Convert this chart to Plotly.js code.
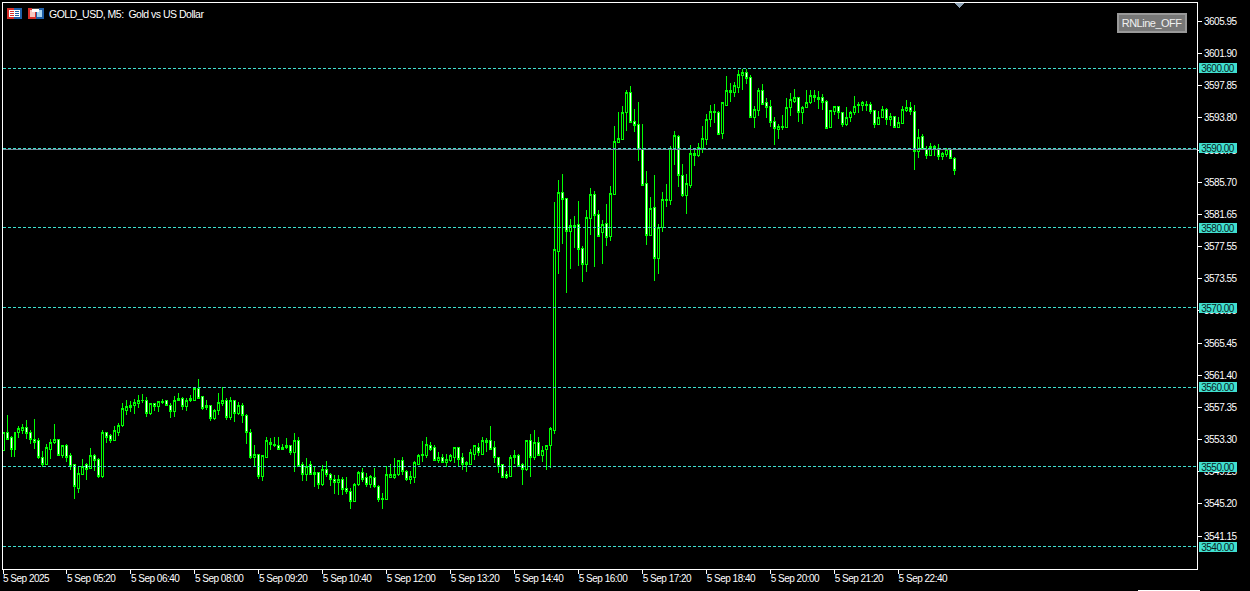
<!DOCTYPE html>
<html>
<head>
<meta charset="utf-8">
<script src="https://cdn.plot.ly/plotly-3.0.1.min.js"></script>
<style>html,body{margin:0;padding:0;background:#000;overflow:hidden}#chart{width:1250px;height:591px}
.shapelayer path,.boxlayer path{shape-rendering:crispEdges}
.xtick text,.ytick text,.annotation-text{letter-spacing:-0.5px}</style>
</head>
<body>
<div id="chart"></div>
<script>
var open_ = [3551.87,3554.26,3553.51,3552.00,3554.14,3554.51,3554.89,3554.14,3553.38,3553.13,3551.11,3550.11,3552.12,3552.88,3553.38,3551.24,3552.50,3551.24,3550.11,3547.21,
3548.85,3550.23,3549.61,3551.24,3550.74,3548.60,3554.14,3553.76,3553.13,3554.26,3555.02,3557.03,3557.29,3557.54,3557.79,3558.17,3558.29,3556.53,3557.79,3557.41,
3557.92,3558.17,3557.66,3556.78,3558.42,3558.42,3557.41,3558.17,3558.29,3559.80,3558.67,3557.54,3557.54,3555.90,3556.91,3557.79,3558.17,3556.03,3558.17,3556.53,
3557.66,3556.40,3554.26,3550.99,3551.49,3548.72,3551.11,3553.00,3552.75,3552.50,3552.00,3552.25,3552.50,3551.62,3553.13,3550.11,3548.97,3550.11,3548.85,3549.22,
3547.59,3549.60,3548.85,3548.34,3547.84,3548.34,3547.21,3546.71,3545.57,3547.59,3549.10,3548.47,3547.71,3548.59,3547.46,3545.70,3545.82,3548.59,3548.59,3548.85,
3550.73,3549.35,3548.22,3548.47,3550.23,3551.24,3551.36,3552.62,3552.25,3550.73,3551.11,3550.36,3550.73,3551.11,3552.25,3550.99,3550.23,3550.23,3551.49,3552.37,
3551.49,3553.00,3553.13,3552.37,3551.11,3550.11,3548.85,3548.72,3550.99,3551.36,3550.23,3549.48,3553.13,3550.99,3552.88,3551.36,3552.12,3552.50,3554.51,3577.05,
3584.48,3583.72,3579.57,3580.20,3580.45,3577.43,3575.41,3581.20,3584.23,3581.71,3579.32,3580.57,3578.94,3584.23,3590.77,3591.15,3594.43,3597.07,3593.42,3593.04,
3589.89,3585.61,3579.06,3582.59,3576.17,3580.07,3583.47,3583.47,3589.89,3591.53,3586.62,3584.10,3585.36,3589.14,3589.14,3590.02,3591.15,3593.67,3594.43,3594.55,
3591.91,3595.43,3597.07,3597.07,3597.70,3599.21,3599.59,3598.96,3593.92,3594.80,3597.32,3595.69,3595.31,3593.42,3592.41,3592.66,3592.66,3595.18,3595.94,3596.32,
3594.55,3595.06,3595.69,3596.69,3596.19,3596.32,3595.94,3592.66,3594.68,3595.31,3594.55,3593.04,3593.80,3594.43,3595.43,3595.43,3595.43,3595.56,3594.80,3592.92,
3593.80,3594.93,3593.55,3594.05,3592.66,3593.17,3594.80,3595.18,3594.68,3589.52,3591.53,3589.89,3589.14,3590.27,3590.02,3588.89,3589.26,3589.89,3588.76];
var high_ = [3554.26,3556.40,3553.76,3554.26,3555.02,3555.27,3555.77,3554.51,3555.90,3553.51,3551.87,3552.75,3553.38,3555.27,3553.38,3552.63,3552.75,3551.62,3550.11,3549.98,
3550.86,3550.36,3552.25,3551.49,3550.99,3554.51,3554.26,3554.01,3555.02,3555.40,3557.92,3558.29,3558.17,3558.42,3558.92,3559.05,3558.67,3557.79,3557.92,3558.17,
3558.42,3558.17,3557.92,3558.80,3559.17,3558.67,3558.54,3558.92,3559.93,3560.94,3558.67,3558.29,3557.54,3557.16,3559.17,3559.93,3558.54,3558.67,3558.29,3558.04,
3557.92,3556.53,3554.64,3552.63,3551.49,3551.37,3553.63,3553.51,3553.63,3553.63,3552.75,3553.50,3552.50,3554.14,3553.63,3550.48,3550.99,3550.61,3549.98,3549.22,
3550.11,3550.61,3549.10,3548.85,3548.85,3548.59,3548.59,3547.21,3547.84,3549.35,3549.73,3549.10,3548.85,3549.73,3547.59,3546.58,3549.98,3550.23,3550.99,3550.73,
3551.11,3549.48,3549.35,3550.61,3551.49,3553.13,3553.63,3553.00,3552.62,3551.74,3551.49,3551.49,3551.49,3552.37,3552.25,3551.62,3550.61,3552.12,3552.50,3552.88,
3553.63,3553.50,3555.02,3553.13,3551.11,3550.23,3549.35,3551.36,3552.00,3551.49,3550.36,3553.13,3554.01,3554.51,3553.63,3552.50,3552.62,3554.89,3583.22,3585.99,
3586.74,3583.72,3581.08,3581.46,3583.34,3577.68,3582.21,3584.98,3584.60,3582.21,3580.95,3582.97,3585.23,3592.79,3594.55,3595.31,3597.32,3597.82,3594.93,3595.81,
3593.04,3587.12,3583.85,3586.62,3580.45,3584.48,3585.49,3590.27,3592.16,3591.65,3588.00,3586.74,3590.40,3589.89,3590.65,3592.79,3594.30,3595.43,3595.56,3594.68,
3595.69,3599.09,3598.20,3598.33,3599.84,3599.97,3599.97,3599.21,3595.31,3597.57,3598.08,3596.32,3596.06,3593.92,3593.04,3594.17,3596.32,3596.95,3597.45,3596.44,
3595.31,3597.32,3597.32,3597.32,3597.20,3596.82,3596.06,3594.80,3595.31,3595.31,3594.55,3595.18,3594.68,3596.57,3595.81,3595.94,3595.94,3595.81,3594.80,3594.68,
3595.31,3595.06,3594.43,3594.05,3593.92,3595.31,3596.06,3595.81,3595.43,3592.41,3591.78,3590.27,3590.65,3590.40,3590.52,3589.52,3590.02,3590.02,3588.89];
var low_ = [3551.87,3553.26,3551.07,3551.07,3553.51,3554.01,3553.38,3552.75,3552.12,3550.86,3549.86,3550.11,3550.86,3552.75,3551.24,3550.99,3550.49,3549.48,3545.83,3546.58,
3548.85,3548.22,3549.61,3549.35,3548.47,3548.47,3552.88,3552.88,3553.13,3553.76,3554.89,3556.40,3556.78,3556.53,3557.29,3557.92,3556.15,3556.40,3556.91,3556.78,
3557.79,3557.54,3556.03,3556.15,3558.17,3557.03,3556.91,3558.04,3558.29,3558.42,3557.03,3557.03,3555.65,3555.77,3556.40,3557.54,3555.77,3555.77,3555.52,3556.40,
3555.40,3552.75,3550.86,3549.86,3548.35,3548.09,3551.11,3552.00,3552.37,3552.00,3552.00,3552.12,3551.36,3549.22,3549.98,3548.09,3548.09,3548.85,3547.34,3547.08,
3547.46,3548.59,3547.46,3546.45,3546.33,3546.33,3546.45,3544.57,3545.57,3547.46,3547.96,3547.34,3547.21,3547.21,3545.45,3544.57,3545.70,3548.59,3548.34,3548.72,
3548.85,3548.09,3547.71,3547.84,3550.23,3550.48,3550.99,3551.87,3550.73,3550.36,3550.36,3549.85,3550.48,3550.36,3549.85,3549.48,3549.22,3550.11,3550.73,3551.24,
3551.36,3551.74,3552.00,3550.36,3549.10,3548.47,3548.34,3548.72,3550.23,3549.85,3547.59,3549.35,3548.59,3550.73,3551.24,3550.48,3549.48,3549.73,3554.01,3574.15,
3577.93,3571.72,3574.78,3577.43,3575.16,3573.15,3574.41,3579.06,3575.04,3578.81,3575.41,3577.68,3578.31,3584.23,3590.77,3591.15,3592.16,3593.29,3592.03,3588.38,
3585.36,3577.80,3579.06,3573.27,3574.15,3579.44,3582.59,3582.84,3587.88,3585.11,3583.85,3581.71,3584.98,3587.75,3588.88,3589.39,3590.40,3592.66,3593.17,3591.66,
3591.15,3595.31,3595.81,3596.44,3596.95,3597.32,3598.08,3593.92,3592.54,3594.05,3595.56,3593.80,3592.66,3590.40,3591.15,3592.29,3592.66,3594.05,3595.69,3593.29,
3593.04,3595.06,3595.56,3595.81,3594.93,3594.80,3592.41,3592.54,3594.17,3593.67,3592.66,3592.79,3593.29,3594.17,3594.43,3594.68,3594.68,3594.30,3592.54,3592.92,
3593.80,3592.92,3592.79,3592.54,3592.66,3593.17,3594.55,3594.17,3587.25,3588.76,3589.89,3588.64,3589.01,3589.01,3588.51,3588.51,3588.89,3588.64,3586.62];
var close_ = [3554.26,3553.38,3552.12,3554.26,3554.64,3554.89,3554.01,3553.26,3553.00,3550.99,3550.11,3552.25,3553.00,3553.38,3551.24,3552.50,3550.99,3549.98,3547.34,3548.98,
3549.98,3549.48,3551.24,3550.61,3548.60,3554.14,3553.63,3553.13,3554.39,3555.14,3557.16,3557.41,3557.66,3557.92,3558.29,3558.29,3556.53,3557.79,3557.41,3558.04,
3558.04,3557.54,3556.78,3558.29,3558.17,3557.41,3558.29,3558.42,3559.80,3558.54,3557.16,3557.29,3555.90,3557.03,3557.92,3558.17,3556.03,3558.17,3556.53,3557.66,
3556.28,3554.26,3550.99,3551.49,3548.72,3551.24,3553.13,3552.75,3552.50,3552.00,3552.37,3552.50,3551.62,3553.25,3549.98,3548.97,3549.98,3548.85,3549.22,3547.59,
3549.60,3548.85,3548.22,3547.84,3548.34,3547.08,3546.71,3545.57,3547.71,3549.10,3548.34,3547.71,3548.72,3547.34,3545.70,3545.95,3548.85,3548.97,3548.97,3550.61,
3549.35,3548.22,3548.72,3550.36,3551.36,3551.49,3552.75,3552.12,3550.73,3551.11,3550.36,3550.86,3551.24,3552.25,3550.86,3550.23,3550.36,3551.62,3552.50,3551.62,
3553.13,3553.13,3552.12,3550.99,3549.98,3548.59,3548.59,3551.11,3551.36,3549.98,3549.48,3553.13,3550.99,3552.88,3551.24,3551.87,3552.62,3554.64,3577.18,3584.48,
3583.60,3579.57,3580.32,3580.32,3577.30,3575.41,3581.33,3584.18,3581.58,3578.94,3580.45,3578.81,3584.35,3590.90,3591.28,3594.55,3597.07,3593.29,3592.91,3589.89,
3585.36,3579.06,3582.46,3576.17,3580.07,3583.60,3583.60,3590.02,3591.65,3586.62,3584.10,3585.49,3589.39,3589.39,3590.14,3591.28,3593.67,3594.68,3594.68,3591.78,
3595.69,3597.20,3597.32,3597.83,3599.34,3599.59,3598.83,3593.92,3594.93,3597.32,3595.56,3595.18,3593.29,3592.54,3592.79,3592.79,3595.18,3596.19,3596.32,3594.55,
3595.18,3595.81,3596.69,3596.32,3596.44,3595.81,3592.54,3594.80,3595.31,3594.55,3593.04,3593.92,3594.55,3595.31,3595.56,3595.69,3595.56,3594.68,3592.92,3593.92,
3594.93,3593.55,3594.05,3592.66,3593.29,3594.93,3595.18,3594.68,3589.52,3591.40,3589.89,3589.14,3590.27,3590.02,3588.89,3589.39,3589.89,3588.64,3587.25];

var xTickIdx = [0,16,32,48,64,80,96,112,128,144,160,176,192,208,224];
var xTickText = ['5 Sep 2025','5 Sep 05:20','5 Sep 06:40','5 Sep 08:00','5 Sep 09:20','5 Sep 10:40','5 Sep 12:00','5 Sep 13:20','5 Sep 14:40','5 Sep 16:00','5 Sep 17:20','5 Sep 18:40','5 Sep 20:00','5 Sep 21:20','5 Sep 22:40'];
var yTickVals = [3605.95,3601.90,3597.85,3593.80,3589.75,3585.70,3581.65,3577.60,3573.55,3569.50,3565.45,3561.40,3557.35,3553.30,3549.25,3545.20,3541.15];
var yTickText = ['3605.95','3601.90','3597.85','3593.80','3589.75','3585.70','3581.65','3577.55','3573.55','3569.50','3565.45','3561.40','3557.35','3553.30','3549.25','3545.20','3541.15'];
var roundLevels = [3600,3590,3580,3570,3560,3550,3540];
var levelLabels = ['3600.00','3590.00','3580.00','3570.00','3560.00','3550.00','3540.00'];
var priceLine = 3589.83;

var PLOT = {l:2.5, t:3, w:1194.5, h:566};
function px(x){return (x-PLOT.l)/PLOT.w;}
function py(y){return 1-(y-PLOT.t)/PLOT.h;}
function box(x0,y0,x1,y1,fill){return {type:'rect',xref:'paper',yref:'paper',x0:px(x0),x1:px(x1),y0:py(y0),y1:py(y1),fillcolor:fill,line:{width:0},layer:'above'};}

var xs = open_.map(function(_,i){return i;});
var FONT = 'Liberation Sans, Arial, sans-serif';

var shapes = roundLevels.map(function(v){
  return {type:'line',xref:'paper',yref:'y2',x0:0,x1:1,y0:v,y1:v,line:{color:'#40e0d0',width:1,dash:'3px,2px'},layer:'above'};
});
shapes.push({type:'line',xref:'paper',yref:'y2',x0:0,x1:1,y0:priceLine,y1:priceLine,line:{color:'#778899',width:1},layer:'above'});
// chart-shift marker
shapes.push({type:'path',xref:'paper',yref:'paper',path:'M '+px(954)+' '+py(3)+' L '+px(964)+' '+py(3)+' L '+px(959)+' '+py(8)+' Z',fillcolor:'#8fa3b5',line:{width:0},layer:'above'});
// window strip at the bottom edge
shapes.push(box(1138,590,1200,591,'#ffffff'));
// icons at top-left
[
 box(7,8,22,19,'#1f5fa8'), box(7,8,14,19,'#d8302a'), box(9,10,20,17,'#ffffff'),
 box(10,11,14,12,'#d8302a'), box(15,11,19,12,'#1f5fa8'), box(10,13,14,14,'#d8302a'), box(15,13,19,14,'#1f5fa8'), box(10,15,14,16,'#d8302a'), box(15,15,19,16,'#1f5fa8'),
 box(28,8,36,19,'#d8302a'), box(36,8,44,19,'#1f5fa8'), box(30,10,35,17,'#f7c9c2'), box(37,10,42,17,'#a9d4f0'), box(32,8,39,12,'#ffffff'), box(32,8,39,9,'#444444')
].forEach(function(s){shapes.push(s);});

var annotations = roundLevels.map(function(v,i){
  return {xref:'paper',yref:'y2',x:px(1199.5),y:v,xanchor:'left',yanchor:'middle',text:levelLabels[i],showarrow:false,width:38,height:10,align:'center',
    font:{family:FONT,size:10,color:'#0a2020'},bgcolor:'#40e0d0',borderpad:0,borderwidth:0};
});
annotations.push({xref:'paper',yref:'paper',x:px(47),y:py(13.5),xanchor:'left',yanchor:'middle',text:'GOLD_USD, M5:  Gold vs US Dollar',showarrow:false,font:{family:FONT,size:10.5,color:'#ffffff'}});
annotations.push({xref:'paper',yref:'paper',x:px(1152),y:py(23),xanchor:'center',yanchor:'middle',text:'RNLine_OFF',showarrow:false,width:66,height:16,
  font:{family:FONT,size:11,color:'#f0f0f0'},bgcolor:'#777777',bordercolor:'#999999',borderwidth:2,borderpad:0});

var trace = {type:'candlestick',x:xs,open:open_,high:high_,low:low_,close:close_,whiskerwidth:0,
  increasing:{line:{color:'#00ff00',width:1},fillcolor:'#000000'},
  decreasing:{line:{color:'#00ff00',width:1},fillcolor:'#ffffff'},
  hoverinfo:'skip'};

var layout = {
  width:1250,height:591,paper_bgcolor:'#000',plot_bgcolor:'#000',showlegend:false,
  margin:{l:PLOT.l,t:PLOT.t,r:1250-PLOT.l-PLOT.w,b:591-PLOT.t-PLOT.h,pad:0},
  boxgap:0.2857,
  xaxis:{type:'linear',range:[0,298.625],rangeslider:{visible:false},showgrid:false,zeroline:false,
    tickmode:'array',tickvals:xTickIdx,ticktext:xTickText,ticks:'outside',ticklen:4,tickcolor:'#fff',tickwidth:1,
    ticklabelposition:'outside right',tickangle:0,ticklabelshift:-1,
    tickfont:{family:FONT,size:10,color:'#fff'},showline:true,linecolor:'#fff',linewidth:1,mirror:true},
  yaxis:{type:'linear',side:'right',range:[3537.01,3608.28],showgrid:false,zeroline:false,
    tickmode:'array',tickvals:yTickVals,ticktext:yTickText,ticks:'outside',ticklen:4,tickcolor:'#fff',tickwidth:1,
    tickfont:{family:FONT,size:10,color:'#fff'},showline:true,linecolor:'#fff',linewidth:1,mirror:true},
  yaxis2:{type:'linear',overlaying:'y',side:'right',visible:false,range:[3537.18,3608.22]},
  shapes:shapes,annotations:annotations
};
Plotly.newPlot('chart',[trace],layout,{displayModeBar:false,staticPlot:true});
</script>
</body>
</html>
